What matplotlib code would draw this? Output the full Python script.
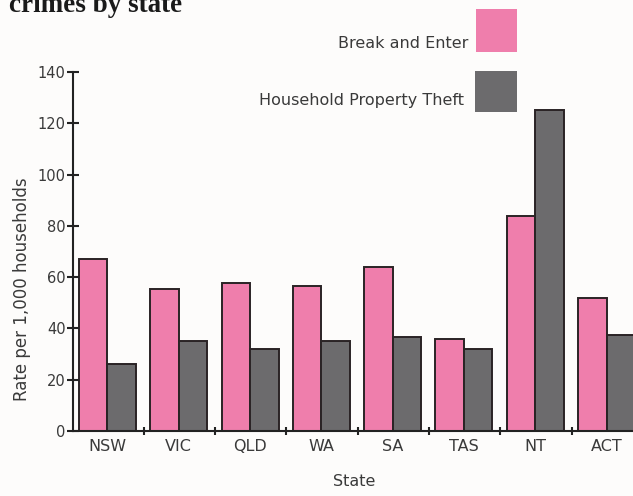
import matplotlib
matplotlib.use("Agg")
import matplotlib.pyplot as plt
from matplotlib.patches import Rectangle
import numpy as np

# data
states = ['NSW', 'VIC', 'QLD', 'WA', 'SA', 'TAS', 'NT', 'ACT']
break_enter = [67, 55.5, 57.8, 56.4, 64, 36, 84, 52]
property_theft = [26, 35, 32, 35, 36.6, 32, 125, 37.4]
yticks = [0, 20, 40, 60, 80, 100, 120, 140]

pink = '#ef7eac'
grey = '#6c6b6d'
edge = '#2a2325'

plt.rcParams['font.family'] = ['DejaVu Sans']
W, H = 633, 496
fig = plt.figure(figsize=(W / 100, H / 100), dpi=100, facecolor='#fdfcfb')

# axes box in pixels: left 72.5, bottom at y=431, top (140) at y=72, runs off the right edge
ax = fig.add_axes([72.5 / W, (H - 431) / H, (W - 72.5) / W, 359 / H])
ax.set_facecolor('none')

x = np.arange(len(states))
ax.bar(x + 0.09, break_enter, width=0.40, align='edge', color=pink,
       edgecolor=edge, linewidth=1.4)
ax.bar(x + 0.49, property_theft, width=0.40, align='edge', color=grey,
       edgecolor=edge, linewidth=1.4)

ax.set_xlim(0, (W - 72.5) / 71.3)
ax.set_ylim(0, 140)

for s in ['top', 'right']:
    ax.spines[s].set_visible(False)
for s in ['left', 'bottom']:
    ax.spines[s].set_linewidth(1.5)
    ax.spines[s].set_color('#222222')

ax.set_yticks(yticks)
ax.tick_params(axis='y', direction='inout', length=8, width=1.5, color='#222222',
               labelsize=10.5, labelcolor='#3a3a3a', pad=1)

# category boundaries as ticks, labels sit between the bar pairs
ax.set_xticks(x[1:])
ax.set_xticklabels([])
ax.tick_params(axis='x', which='major', direction='inout', length=6, width=1.5,
               color='#222222')
ax.set_xticks(x + 0.49, minor=True)
ax.set_xticklabels(states, minor=True)
ax.tick_params(axis='x', which='minor', length=0, labelsize=11.5,
               labelcolor='#3a3a3a', pad=6)

fig.text(22 / W, 1 - 289 / H, 'Rate per 1,000 households', rotation=90,
         ha='center', va='center', fontsize=12, color='#3a3a3a')
fig.text(354 / W, 1 - 482 / H, 'State', ha='center', va='center',
         fontsize=11.5, color='#3a3a3a')

# title, cut off at the top of the picture
fig.text(9 / W, 1 - 12 / H, 'crimes by state', ha='left', va='baseline',
         fontsize=19.5, fontweight='bold', family=['Liberation Serif', 'DejaVu Serif'],
         color='#1a1a1a')

# legend: label on the left, swatch on the right
fig.add_artist(Rectangle((476 / W, 1 - 51.7 / H), 41 / W, 42.4 / H,
                         transform=fig.transFigure, color=pink, lw=0))
fig.add_artist(Rectangle((475 / W, 1 - 111.7 / H), 42 / W, 41 / H,
                         transform=fig.transFigure, color=grey, lw=0))
fig.text(468 / W, 1 - 43 / H, 'Break and Enter', ha='right', va='center',
         fontsize=11.5, color='#3a3a3a')
fig.text(464 / W, 1 - 101 / H, 'Household Property Theft', ha='right', va='center',
         fontsize=11.5, color='#3a3a3a')

fig.savefig('out.png', dpi=100, facecolor=fig.get_facecolor())
